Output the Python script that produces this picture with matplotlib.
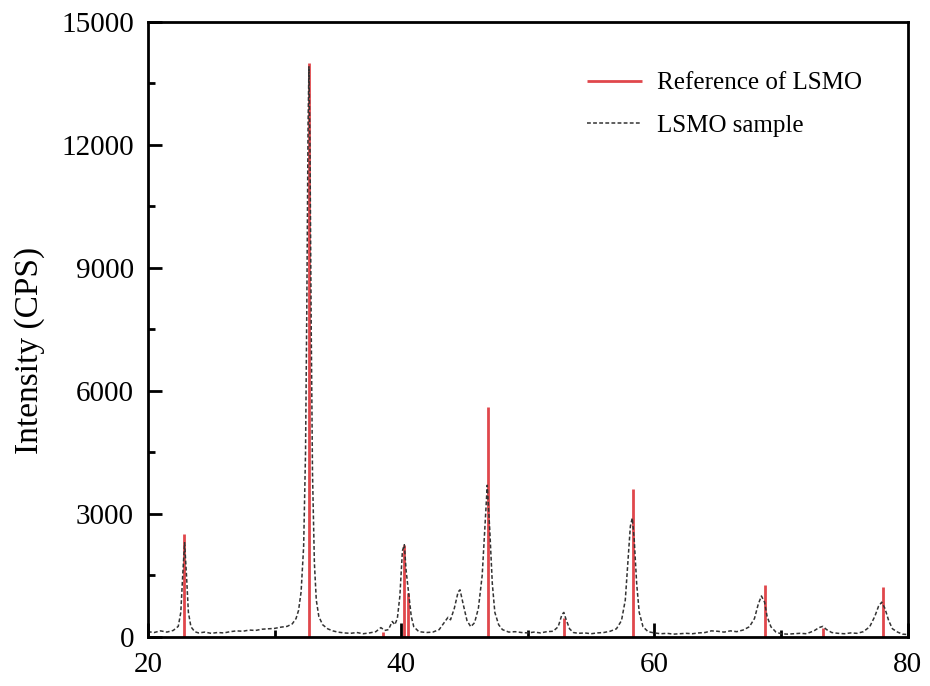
import matplotlib.pyplot as plt
from matplotlib.ticker import MultipleLocator

plt.rcParams['font.family'] = ['Liberation Serif', 'DejaVu Serif']

# reference pattern (stick positions / intensities)
ref_pos = [22.85, 32.7, 38.6, 40.2, 40.55, 46.85, 52.9, 58.3, 68.75, 73.3, 78.05]
ref_int = [2500, 14000, 120, 2250, 1070, 5600, 460, 3600, 1270, 220, 1220]

tt = [20.0, 20.5, 21.0, 21.5, 22.0, 22.4, 22.6, 22.75, 22.9, 23.05, 23.2, 23.4, 23.7,
      24.0, 24.5, 25.0, 25.5, 26.0, 26.5, 27.0, 27.5, 28.0, 28.5, 29.0, 29.5, 30.0,
      30.5, 31.0, 31.4, 31.7, 31.9, 32.1, 32.3, 32.45, 32.55, 32.65, 32.72, 32.8,
      32.9, 33.0, 33.15, 33.3, 33.5, 33.8, 34.2, 34.6, 35.0, 35.5, 36.0, 36.5, 37.0,
      37.5, 38.0, 38.4, 38.7, 39.0, 39.3, 39.5, 39.7, 39.9, 40.1, 40.25, 40.4, 40.6,
      40.8, 41.0, 41.4, 42.0, 42.5, 43.0, 43.4, 43.7, 43.9, 44.2, 44.5, 44.65, 44.9,
      45.2, 45.5, 45.8, 46.1, 46.4, 46.6, 46.8, 47.0, 47.2, 47.4, 47.7, 48.0, 48.5,
      49.0, 49.5, 50.0, 50.5, 51.0, 51.5, 52.0, 52.4, 52.7, 52.85, 53.0, 53.3, 53.6,
      54.0, 54.5, 55.0, 55.5, 56.0, 56.5, 57.0, 57.4, 57.7, 57.9, 58.1, 58.25, 58.4,
      58.6, 58.8, 59.1, 59.5, 60.0, 60.5, 61.0, 61.5, 62.0, 62.5, 63.0, 63.5, 64.0,
      64.5, 65.0, 65.5, 66.0, 66.5, 67.0, 67.5, 67.9, 68.2, 68.45, 68.7, 68.9, 69.2,
      69.6, 70.0, 70.5, 71.0, 71.5, 72.0, 72.6, 73.0, 73.3, 73.6, 74.0, 74.5, 75.0,
      75.5, 76.0, 76.5, 77.0, 77.4, 77.7, 77.95, 78.2, 78.5, 78.8, 79.2, 79.6, 80.0]
cps = [130, 110, 150, 120, 160, 260, 600, 1500, 2300, 1500, 600, 250, 130,
       100, 120, 90, 110, 100, 130, 150, 140, 170, 160, 190, 200, 210,
       240, 260, 320, 450, 650, 1100, 2200, 4500, 8000, 12500, 13900, 12000,
       7500, 4000, 1800, 900, 500, 300, 200, 150, 120, 100, 90, 110, 80,
       100, 130, 230, 160, 180, 380, 300, 450, 1000, 2100, 2250, 1600, 1050,
       500, 250, 130, 110, 120, 180, 350, 480, 420, 700, 1100, 1150, 800,
       400, 250, 350, 700, 1500, 2600, 3700, 2600, 1300, 600, 300, 180, 120,
       130, 110, 100, 120, 100, 130, 140, 250, 550, 600, 450, 200, 110,
       90, 100, 80, 100, 110, 140, 200, 400, 900, 1800, 2700, 2900, 2400,
       1300, 600, 250, 130, 100, 80, 90, 70, 80, 90, 80, 100, 110,
       150, 140, 120, 150, 130, 170, 250, 450, 800, 1000, 850, 500, 250,
       120, 80, 70, 80, 90, 80, 150, 230, 260, 180, 110, 90, 80,
       100, 90, 130, 250, 500, 750, 850, 700, 400, 200, 120, 70, 60]

fig = plt.figure(figsize=(9.3, 6.86), dpi=100)
ax = fig.add_axes([0.159, 0.0714, 0.817, 0.897])

ax.vlines(ref_pos, 0, ref_int, color='#e0474c', linewidth=2, label='Reference of LSMO')
ax.plot(tt, cps, color='#333333', linestyle=(0, (2.5, 1.5)), linewidth=1.1, label='LSMO sample')

ax.set_xlim(20, 80)
ax.set_ylim(0, 15000)
ax.xaxis.set_major_locator(MultipleLocator(20))
ax.xaxis.set_minor_locator(MultipleLocator(10))
ax.yaxis.set_major_locator(MultipleLocator(3000))
ax.yaxis.set_minor_locator(MultipleLocator(1500))
ax.tick_params(which='both', direction='in', width=2, labelsize=21)
ax.tick_params(which='major', length=10)
ax.tick_params(which='minor', length=5)
ax.tick_params(axis='x', pad=11)
ax.tick_params(axis='y', pad=10)
for s in ax.spines.values():
    s.set_linewidth(2)

ax.set_ylabel('Intensity (CPS)', fontsize=24, labelpad=14)
ax.yaxis.set_label_coords(-0.135, 0.465)

ax.legend(loc='upper right', frameon=False, fontsize=18, handlelength=2.2,
          handletextpad=0.6, bbox_to_anchor=(0.97, 0.955), labelspacing=0.8)

fig.savefig('out.png', dpi=100)
